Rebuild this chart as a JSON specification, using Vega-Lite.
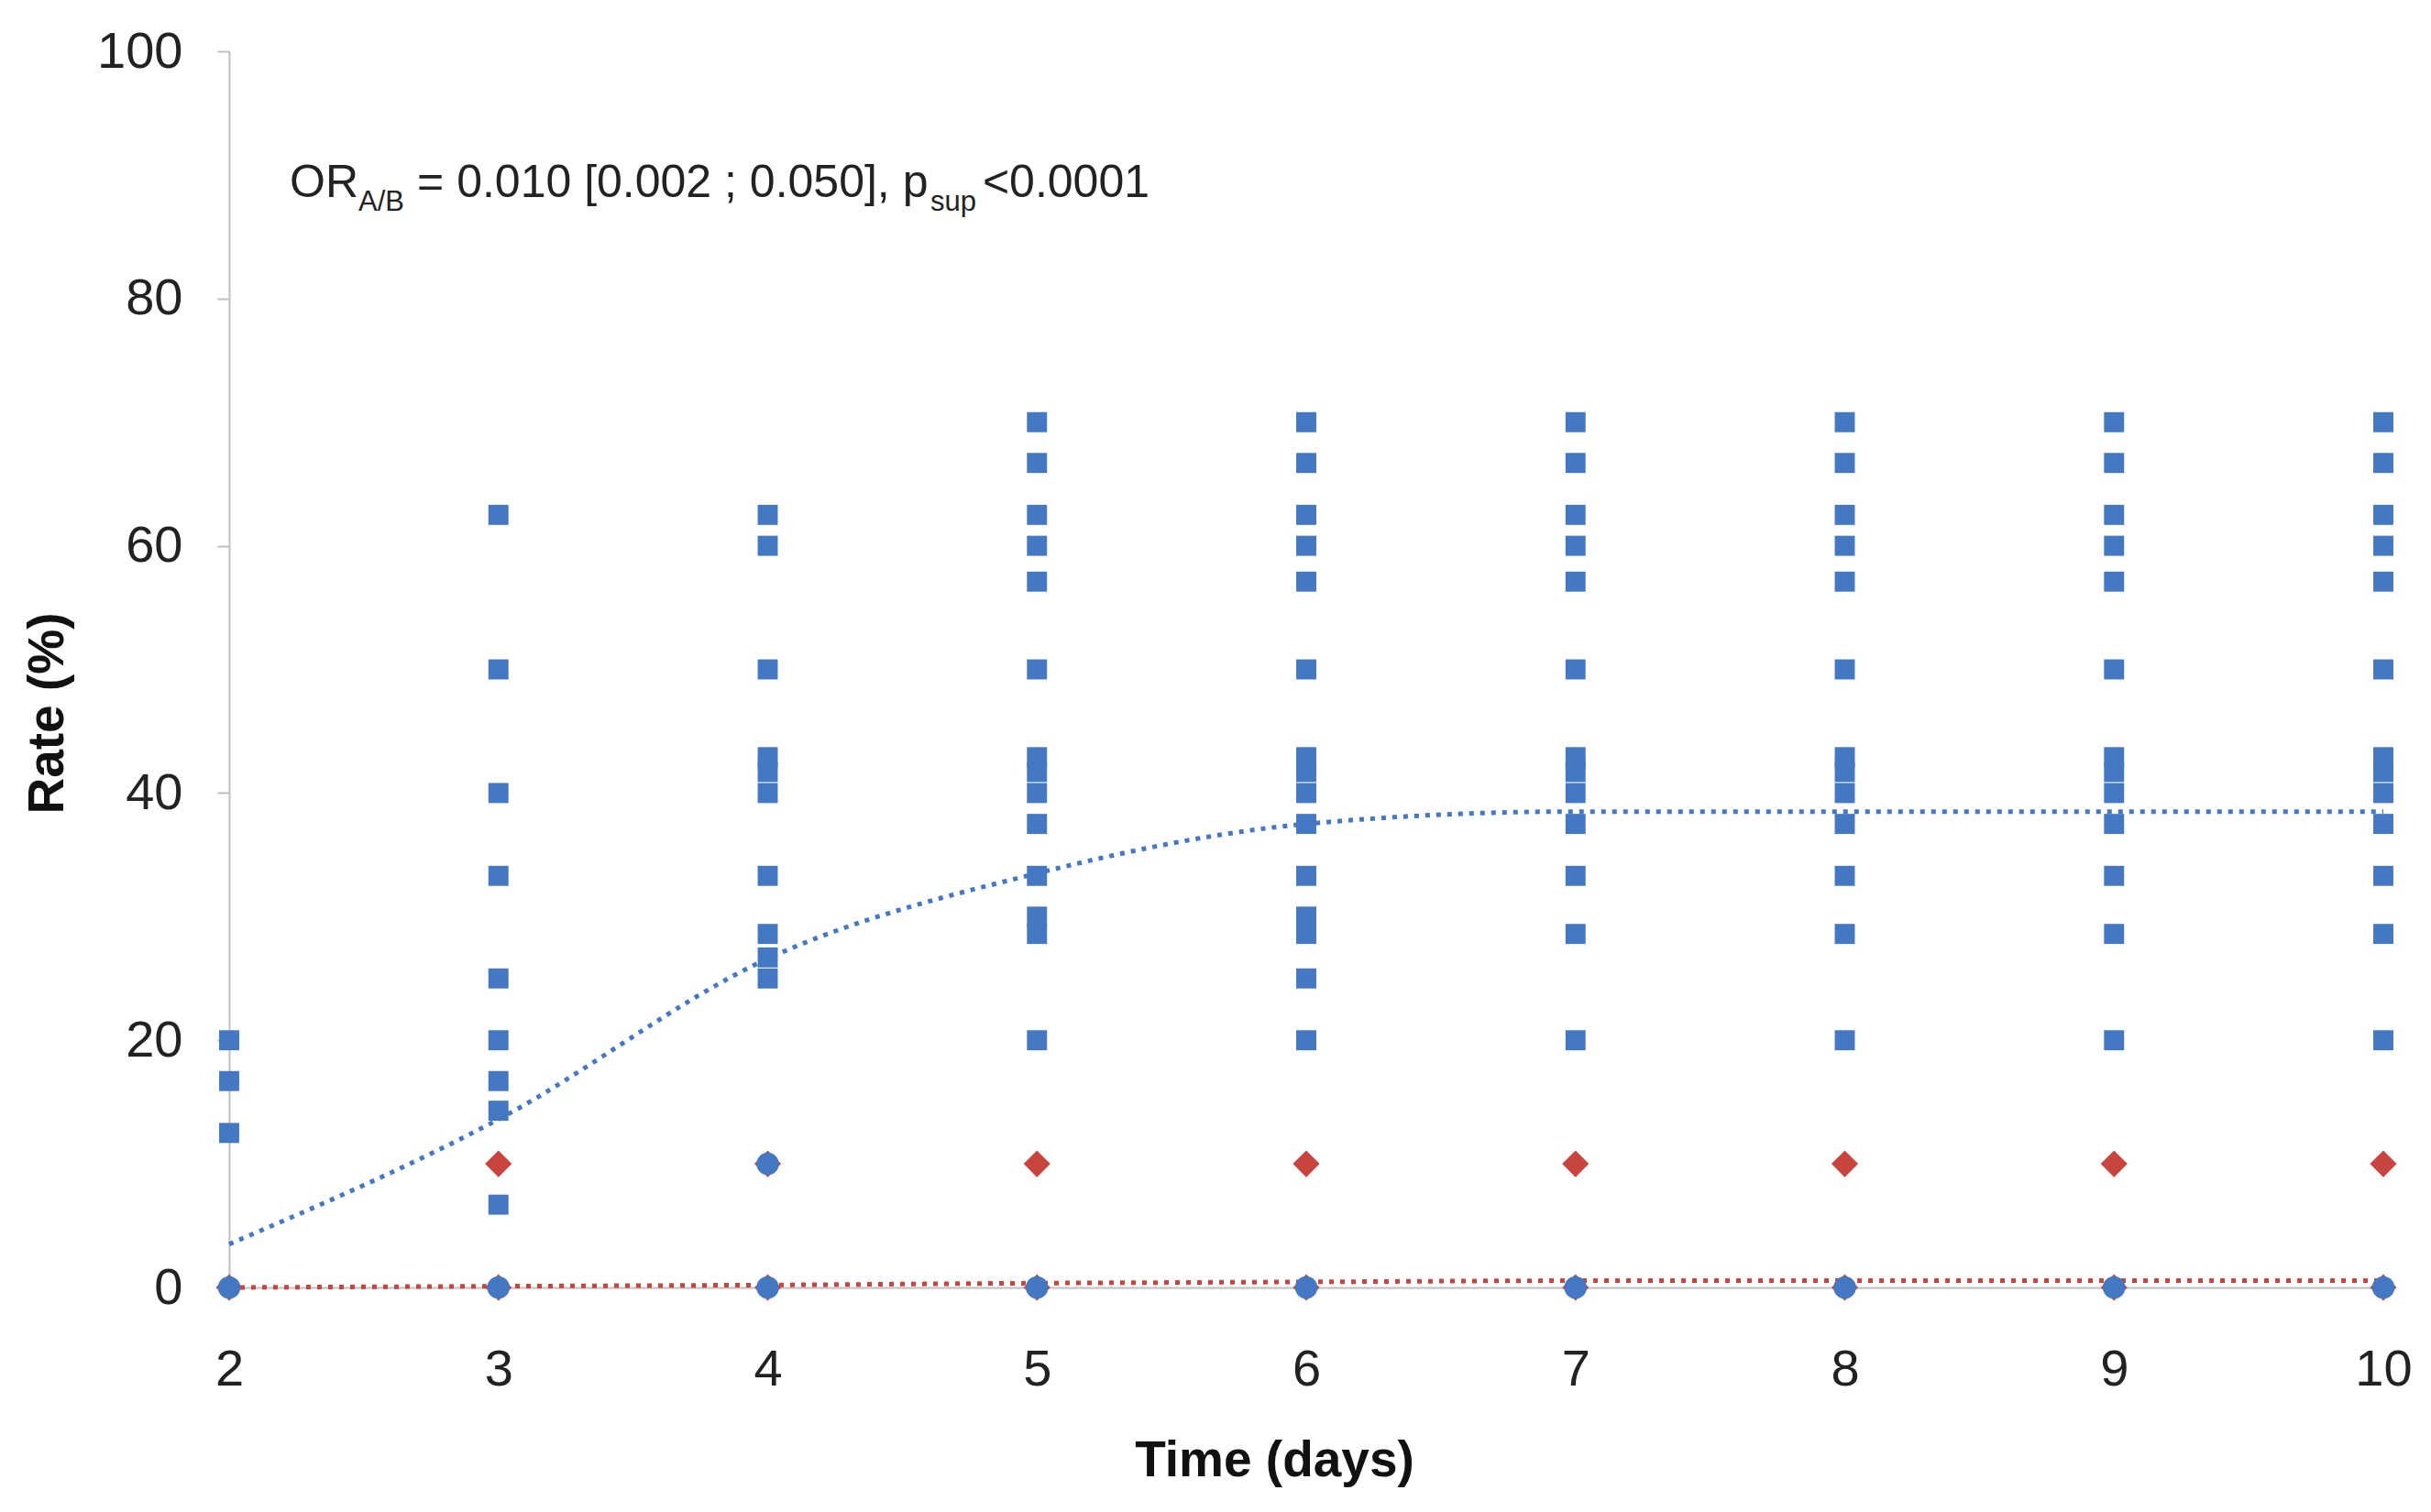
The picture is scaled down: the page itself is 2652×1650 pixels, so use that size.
{
  "$schema": "https://vega.github.io/schema/vega-lite/v6.json",
  "width": 2350,
  "height": 1349,
  "autosize": "none",
  "padding": {"left": 250, "top": 56, "right": 52, "bottom": 245},
  "background": "white",
  "config": {
    "view": {"stroke": null},
    "font": "Liberation Sans"
  },
  "datasets": {
    "points": [
      {"day": 2, "rate": 20, "series": "A"}, {"day": 2, "rate": 16.7, "series": "A"}, {"day": 2, "rate": 12.5, "series": "A"},
      {"day": 3, "rate": 62.5, "series": "A"}, {"day": 3, "rate": 50, "series": "A"}, {"day": 3, "rate": 40, "series": "A"},
      {"day": 3, "rate": 33.3, "series": "A"}, {"day": 3, "rate": 25, "series": "A"}, {"day": 3, "rate": 20, "series": "A"},
      {"day": 3, "rate": 16.7, "series": "A"}, {"day": 3, "rate": 14.3, "series": "A"}, {"day": 3, "rate": 6.7, "series": "A"},
      {"day": 4, "rate": 62.5, "series": "A"}, {"day": 4, "rate": 60, "series": "A"}, {"day": 4, "rate": 50, "series": "A"},
      {"day": 4, "rate": 42.9, "series": "A"}, {"day": 4, "rate": 41.7, "series": "A"}, {"day": 4, "rate": 40, "series": "A"},
      {"day": 4, "rate": 33.3, "series": "A"}, {"day": 4, "rate": 28.6, "series": "A"}, {"day": 4, "rate": 26.7, "series": "A"},
      {"day": 4, "rate": 25, "series": "A"},
      {"day": 5, "rate": 70, "series": "A"}, {"day": 5, "rate": 66.7, "series": "A"}, {"day": 5, "rate": 62.5, "series": "A"},
      {"day": 5, "rate": 60, "series": "A"}, {"day": 5, "rate": 57.1, "series": "A"}, {"day": 5, "rate": 50, "series": "A"},
      {"day": 5, "rate": 42.9, "series": "A"}, {"day": 5, "rate": 41.7, "series": "A"}, {"day": 5, "rate": 40, "series": "A"},
      {"day": 5, "rate": 37.5, "series": "A"}, {"day": 5, "rate": 33.3, "series": "A"}, {"day": 5, "rate": 30, "series": "A"},
      {"day": 5, "rate": 28.6, "series": "A"}, {"day": 5, "rate": 20, "series": "A"},
      {"day": 6, "rate": 70, "series": "A"}, {"day": 6, "rate": 66.7, "series": "A"}, {"day": 6, "rate": 62.5, "series": "A"},
      {"day": 6, "rate": 60, "series": "A"}, {"day": 6, "rate": 57.1, "series": "A"}, {"day": 6, "rate": 50, "series": "A"},
      {"day": 6, "rate": 42.9, "series": "A"}, {"day": 6, "rate": 41.7, "series": "A"}, {"day": 6, "rate": 40, "series": "A"},
      {"day": 6, "rate": 37.5, "series": "A"}, {"day": 6, "rate": 33.3, "series": "A"}, {"day": 6, "rate": 30, "series": "A"},
      {"day": 6, "rate": 28.6, "series": "A"}, {"day": 6, "rate": 25, "series": "A"}, {"day": 6, "rate": 20, "series": "A"},
      {"day": 7, "rate": 70, "series": "A"}, {"day": 7, "rate": 66.7, "series": "A"}, {"day": 7, "rate": 62.5, "series": "A"},
      {"day": 7, "rate": 60, "series": "A"}, {"day": 7, "rate": 57.1, "series": "A"}, {"day": 7, "rate": 50, "series": "A"},
      {"day": 7, "rate": 42.9, "series": "A"}, {"day": 7, "rate": 41.7, "series": "A"}, {"day": 7, "rate": 40, "series": "A"},
      {"day": 7, "rate": 37.5, "series": "A"}, {"day": 7, "rate": 33.3, "series": "A"}, {"day": 7, "rate": 28.6, "series": "A"},
      {"day": 7, "rate": 20, "series": "A"},
      {"day": 8, "rate": 70, "series": "A"}, {"day": 8, "rate": 66.7, "series": "A"}, {"day": 8, "rate": 62.5, "series": "A"},
      {"day": 8, "rate": 60, "series": "A"}, {"day": 8, "rate": 57.1, "series": "A"}, {"day": 8, "rate": 50, "series": "A"},
      {"day": 8, "rate": 42.9, "series": "A"}, {"day": 8, "rate": 41.7, "series": "A"}, {"day": 8, "rate": 40, "series": "A"},
      {"day": 8, "rate": 37.5, "series": "A"}, {"day": 8, "rate": 33.3, "series": "A"}, {"day": 8, "rate": 28.6, "series": "A"},
      {"day": 8, "rate": 20, "series": "A"},
      {"day": 9, "rate": 70, "series": "A"}, {"day": 9, "rate": 66.7, "series": "A"}, {"day": 9, "rate": 62.5, "series": "A"},
      {"day": 9, "rate": 60, "series": "A"}, {"day": 9, "rate": 57.1, "series": "A"}, {"day": 9, "rate": 50, "series": "A"},
      {"day": 9, "rate": 42.9, "series": "A"}, {"day": 9, "rate": 41.7, "series": "A"}, {"day": 9, "rate": 40, "series": "A"},
      {"day": 9, "rate": 37.5, "series": "A"}, {"day": 9, "rate": 33.3, "series": "A"}, {"day": 9, "rate": 28.6, "series": "A"},
      {"day": 9, "rate": 20, "series": "A"},
      {"day": 10, "rate": 70, "series": "A"}, {"day": 10, "rate": 66.7, "series": "A"}, {"day": 10, "rate": 62.5, "series": "A"},
      {"day": 10, "rate": 60, "series": "A"}, {"day": 10, "rate": 57.1, "series": "A"}, {"day": 10, "rate": 50, "series": "A"},
      {"day": 10, "rate": 42.9, "series": "A"}, {"day": 10, "rate": 41.7, "series": "A"}, {"day": 10, "rate": 40, "series": "A"},
      {"day": 10, "rate": 37.5, "series": "A"}, {"day": 10, "rate": 33.3, "series": "A"}, {"day": 10, "rate": 28.6, "series": "A"},
      {"day": 10, "rate": 20, "series": "A"},
      {"day": 2, "rate": 0, "series": "B"}, {"day": 3, "rate": 0, "series": "B"}, {"day": 4, "rate": 0, "series": "B"},
      {"day": 5, "rate": 0, "series": "B"}, {"day": 6, "rate": 0, "series": "B"}, {"day": 7, "rate": 0, "series": "B"},
      {"day": 8, "rate": 0, "series": "B"}, {"day": 9, "rate": 0, "series": "B"}, {"day": 10, "rate": 0, "series": "B"},
      {"day": 3, "rate": 10, "series": "B"}, {"day": 4, "rate": 10, "series": "B"}, {"day": 5, "rate": 10, "series": "B"},
      {"day": 6, "rate": 10, "series": "B"}, {"day": 7, "rate": 10, "series": "B"}, {"day": 8, "rate": 10, "series": "B"},
      {"day": 9, "rate": 10, "series": "B"}, {"day": 10, "rate": 10, "series": "B"},
      {"day": 2, "rate": 0, "series": "C"}, {"day": 3, "rate": 0, "series": "C"}, {"day": 4, "rate": 0, "series": "C"},
      {"day": 5, "rate": 0, "series": "C"}, {"day": 6, "rate": 0, "series": "C"}, {"day": 7, "rate": 0, "series": "C"},
      {"day": 8, "rate": 0, "series": "C"}, {"day": 9, "rate": 0, "series": "C"}, {"day": 10, "rate": 0, "series": "C"},
      {"day": 4, "rate": 10, "series": "C"}
    ],
    "means": [
      {"day": 2, "rate": 3.5, "series": "A"}, {"day": 3, "rate": 13.6, "series": "A"}, {"day": 4, "rate": 26.6, "series": "A"},
      {"day": 5, "rate": 33.5, "series": "A"}, {"day": 6, "rate": 37.5, "series": "A"}, {"day": 7, "rate": 38.5, "series": "A"},
      {"day": 8, "rate": 38.5, "series": "A"}, {"day": 9, "rate": 38.5, "series": "A"}, {"day": 10, "rate": 38.5, "series": "A"},
      {"day": 2, "rate": 0, "series": "B"}, {"day": 3, "rate": 0.1, "series": "B"}, {"day": 4, "rate": 0.2, "series": "B"},
      {"day": 5, "rate": 0.35, "series": "B"}, {"day": 6, "rate": 0.45, "series": "B"}, {"day": 7, "rate": 0.55, "series": "B"},
      {"day": 8, "rate": 0.55, "series": "B"}, {"day": 9, "rate": 0.55, "series": "B"}, {"day": 10, "rate": 0.55, "series": "B"}
    ],
    "labels": [
      {"day": 2.225, "rate": 88.2, "text": "OR", "kind": "main"},
      {"day": 2.48, "rate": 87.1, "text": "A/B", "kind": "sub"},
      {"day": 2.698, "rate": 88.2, "text": "= 0.010 [0.002 ; 0.050], p", "kind": "main"},
      {"day": 4.604, "rate": 87.1, "text": "sup", "kind": "sub"},
      {"day": 4.798, "rate": 88.2, "text": "<0.0001", "kind": "main"}
    ]
  },
  "encoding": {
    "x": {
      "field": "day",
      "type": "quantitative",
      "title": "Time (days)",
      "scale": {"domain": [2, 10], "nice": false, "zero": false},
      "axis": {
        "values": [2, 3, 4, 5, 6, 7, 8, 9, 10],
        "grid": false,
        "ticks": false,
        "domainColor": "#BFBFBF",
        "domainWidth": 2,
        "labelFontSize": 56,
        "labelColor": "#222222",
        "labelPadding": 62,
        "labelFlush": false,
        "labelOverlap": false,
        "labelFont": "Liberation Sans",
        "titleFontSize": 55,
        "titleFontWeight": "bold",
        "titleColor": "#111111",
        "titleX": 1140,
        "titleY": 188,
        "titleAnchor": null,
        "titleAlign": "center",
        "titleBaseline": "middle"
      }
    },
    "y": {
      "field": "rate",
      "type": "quantitative",
      "title": "Rate (%)",
      "scale": {"domain": [0, 100], "nice": false},
      "axis": {
        "values": [0, 20, 40, 60, 80, 100],
        "grid": false,
        "domainColor": "#BFBFBF",
        "domainWidth": 2,
        "tickColor": "#BFBFBF",
        "tickWidth": 2,
        "tickSize": 13,
        "labelFontSize": 56,
        "labelColor": "#222222",
        "labelPadding": 38,
        "labelFlush": false,
        "labelFont": "Liberation Sans",
        "titleFontSize": 55,
        "titleFontWeight": "bold",
        "titleColor": "#111111",
        "titleAngle": -90,
        "titleX": -199,
        "titleY": 722,
        "titleAnchor": null,
        "titleAlign": "center",
        "titleBaseline": "middle"
      }
    }
  },
  "layer": [
    {
      "data": {"name": "means"},
      "transform": [{"filter": "datum.series === 'B'"}],
      "mark": {"type": "line", "interpolate": "monotone", "color": "#C8453F", "strokeWidth": 5, "strokeDash": [5, 7]},
      "encoding": {}
    },
    {
      "data": {"name": "means"},
      "transform": [{"filter": "datum.series === 'A'"}],
      "mark": {"type": "line", "interpolate": "monotone", "color": "#4478C2", "strokeWidth": 5, "strokeDash": [5, 7]},
      "encoding": {}
    },
    {
      "data": {"name": "points"},
      "transform": [{"filter": "datum.series === 'B'"}],
      "mark": {"type": "point", "shape": "diamond", "filled": true, "color": "#C8453F", "size": 850, "opacity": 1}
    },
    {
      "data": {"name": "points"},
      "transform": [{"filter": "datum.series === 'A'"}],
      "mark": {"type": "point", "shape": "square", "filled": true, "color": "#4478C2", "size": 480, "opacity": 1}
    },
    {
      "data": {"name": "points"},
      "transform": [{"filter": "datum.series === 'C'"}],
      "mark": {"type": "point", "shape": "circle", "filled": true, "color": "#4478C2", "size": 600, "opacity": 1}
    },
    {
      "data": {"name": "labels"},
      "transform": [{"filter": "datum.kind === 'main'"}],
      "mark": {"type": "text", "align": "left", "baseline": "alphabetic", "fontSize": 50, "color": "#222222", "font": "Liberation Sans"},
      "encoding": {"text": {"field": "text", "type": "nominal"}}
    },
    {
      "data": {"name": "labels"},
      "transform": [{"filter": "datum.kind === 'sub'"}],
      "mark": {"type": "text", "align": "left", "baseline": "alphabetic", "fontSize": 31, "color": "#222222", "font": "Liberation Sans"},
      "encoding": {"text": {"field": "text", "type": "nominal"}}
    }
  ]
}
